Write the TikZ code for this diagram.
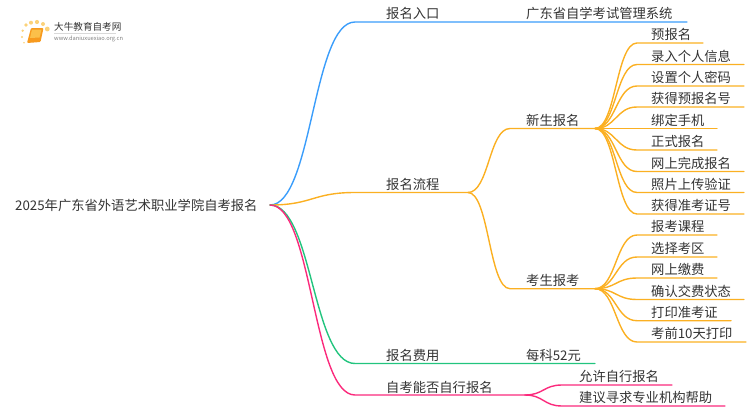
\documentclass[tikz,border=0pt]{standalone}
\usepackage{fontspec}
\setmainfont{Noto Sans CJK SC}
\usetikzlibrary{calc}
\definecolor{lineblue}{HTML}{3A9DFB}
\definecolor{lineorange}{HTML}{FBB022}
\definecolor{linegreen}{HTML}{22C47E}
\definecolor{linepink}{HTML}{FB2A7C}
\definecolor{inktext}{HTML}{333333}
\definecolor{bookorange}{HTML}{F79A1E}
\definecolor{booklight}{HTML}{FBC04A}
\definecolor{dotyellow}{HTML}{FBD27A}

\begin{document}
\begin{tikzpicture}[x=1pt,y=-1pt,
  every node/.style = {inner sep=0pt, anchor=west, text=inktext,
    font=\fontsize{13.3pt}{13.3pt}\selectfont},
  sweep/.style = {to path={.. controls ($(\tikztostart)!.5!(\tikztotarget|-\tikztostart)$)
    and ($(\tikztotarget)!.5!(\tikztostart|-\tikztotarget)$) .. (\tikztotarget)}},
  branch/.style = {line width=1.4pt, line cap=round}]
  \useasboundingbox (0,0) rectangle (750,410);

  % logo
  \foreach \dotx/\doty/\dotr in {22.7/30.7/1.3, 26/25/1.9, 31/22.7/2, 37/22/2.1, 43/24/2, 47.3/29/2.4, 22/37/1.1, 24/42.7/.9}
    \fill[dotyellow] (\dotx,\doty) circle (\dotr);
  \fill[bookorange, rounded corners=1pt] (31,28) -- (43.5,28) -- (40.5,42) -- (27,43) -- cycle;
  \fill[booklight] (32,29.5) -- (41.5,29.5) -- (39.5,37.5) -- (30,38) -- cycle;
  \node (logoname) at (54,26.7) {\fontsize{9.6pt}{10pt}\selectfont 大牛教育自考网};
  \node[text=gray] (logourl) at (54,39) {\fontsize{5.7pt}{7pt}\selectfont www.daniuxuexiao.org.cn};
  \draw[black!15, line width=.5pt] (54,33.3) -- (116,33.3);

  % root and first level
  \node (rootname) at (15,205) {2025年广东省外语艺术职业学院自考报名};
  \coordinate (root) at (270,205);
  \node (entry) at (386,13.5) {报名入口};
  \node (flow) at (386,184) {报名流程};
  \node (fee) at (386,355) {报名费用};
  \node (self) at (386,387) {自考能否自行报名};
  \node (system) at (526,13.5) {广东省自学考试管理系统};
  \node (feevalue) at (526,355) {每科52元};
  \node (newname) at (526,120) {新生报名};
  \node (examname) at (526,280.5) {考生报考};

  \coordinate (entrya) at (355,22);
  \coordinate (entryb) at (687,22);
  \coordinate (flowa) at (355,192.5);
  \coordinate (flowb) at (468,192.5);
  \coordinate (feea) at (355,363.5);
  \coordinate (feeb) at (595,363.5);
  \coordinate (selfa) at (355,395);
  \coordinate (selfb) at (525,395);
  \coordinate (newa) at (510,128.5);
  \coordinate (newb) at (595,128.5);
  \coordinate (exama) at (510,288.7);
  \coordinate (examb) at (595,288.7);

  \draw[branch, lineblue] (root) to[sweep] (entrya) -- (entryb);
  \draw[branch, lineorange] (root) to[sweep] (flowa) -- (flowb);
  \draw[branch, lineorange] (flowb) to[sweep] (newa) -- (newb);
  \draw[branch, lineorange] (flowb) to[sweep] (exama) -- (examb);
  \draw[branch, linegreen] (root) to[sweep] (feea) -- (feeb);
  \draw[branch, linepink] (root) to[sweep] (selfa) -- (selfb);

  % new applicants
  \foreach \i/\liney/\linex/\leaf in {1/43/703/预报名, 2/64.5/744/录入个人信息, 3/86/744/设置个人密码,
    4/107/744/获得预报名号, 5/128.5/717/绑定手机, 6/150/717/正式报名,
    7/171.5/744/网上完成报名, 8/192.5/744/照片上传验证, 9/214/744/获得准考证号} {
    \node (new\i) at (651,\liney-8.5) {\leaf};
    \coordinate (new\i a) at (637,\liney);
    \coordinate (new\i b) at (\linex,\liney);
    \draw[branch, lineorange] (newb) to[sweep] (new\i a) -- (new\i b);
  }

  % exam candidates
  \foreach \i/\liney/\linex/\leaf in {1/235/717/报考课程, 2/257/717/选择考区, 3/278/717/网上缴费,
    4/299.5/744/确认交费状态, 5/320.7/731/打印准考证, 6/342/746/考前10天打印} {
    \node (exam\i) at (651,\liney-8.5) {\leaf};
    \coordinate (exam\i a) at (637,\liney);
    \coordinate (exam\i b) at (\linex,\liney);
    \draw[branch, lineorange] (examb) to[sweep] (exam\i a) -- (exam\i b);
  }

  % self application
  \foreach \i/\liney/\linex/\leaf in {1/385/672/允许自行报名, 2/406/725/建议寻求专业机构帮助} {
    \node (self\i) at (579,\liney-8.5) {\leaf};
    \coordinate (self\i a) at (562,\liney);
    \coordinate (self\i b) at (\linex,\liney);
    \draw[branch, linepink] (selfb) to[sweep] (self\i a) -- (self\i b);
  }
\end{tikzpicture}
\end{document}
